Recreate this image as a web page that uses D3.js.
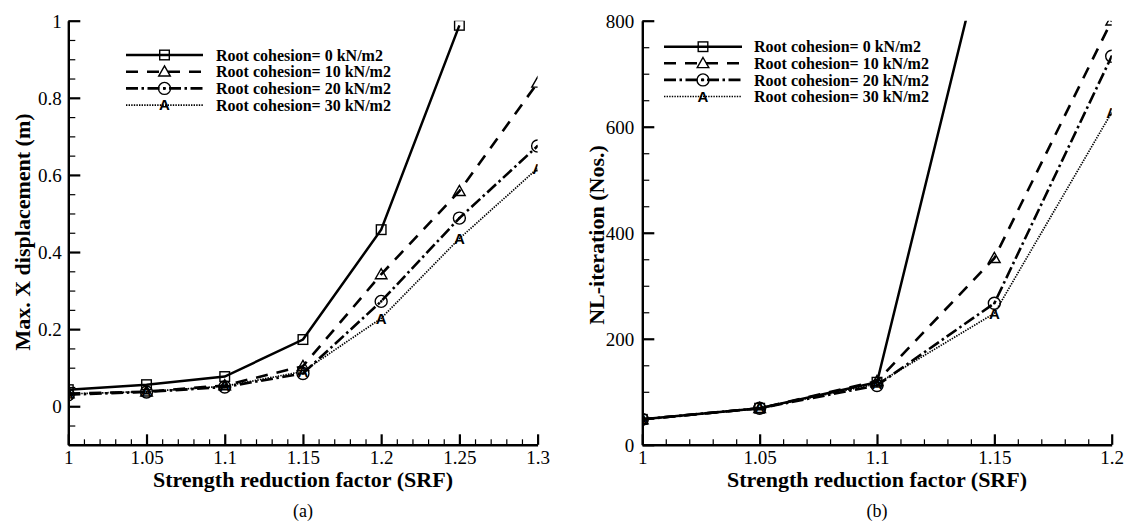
<!DOCTYPE html>
<html>
<head>
<meta charset="utf-8">
<script src="https://cdn.jsdelivr.net/npm/d3@7"></script>
<style>
  html, body { margin: 0; padding: 0; background: #fff; }
  svg { display: block; }
  text { font-family: "Liberation Serif", "Times New Roman", serif; fill: #000; }
</style>
</head>
<body>
<svg id="chart" width="1125" height="523"></svg>
<script>
// ---------- DATA ----------
const seriesNames = ["Root cohesion= 0 kN/m2", "Root cohesion= 10 kN/m2", "Root cohesion= 20 kN/m2", "Root cohesion= 30 kN/m2"];

// (a) Max. X displacement vs SRF
const srfA = [1, 1.05, 1.1, 1.15, 1.2, 1.25, 1.3];
const dispC0  = [0.043, 0.056, 0.077, 0.173, 0.458, 0.988];
const dispC10 = [0.033, 0.038, 0.054, 0.104, 0.342, 0.558, 0.839];
const dispC20 = [0.030, 0.037, 0.050, 0.085, 0.272, 0.488, 0.675];
const dispC30 = [0.032, 0.038, 0.052, 0.090, 0.228, 0.435, 0.617];

// (b) NL-iteration vs SRF
const srfB = [1, 1.05, 1.1, 1.15, 1.2];
const iterC0  = [48, 69, 118, 1020];
const iterC10 = [48, 69, 120, 352, 800];
const iterC20 = [48, 69, 112, 267, 733];
const iterC30 = [48, 69, 115, 248, 627];

// tick values / labels
const xTicksA = [1, 1.05, 1.1, 1.15, 1.2, 1.25, 1.3];
const xTickLabelsA = ["1", "1.05", "1.1", "1.15", "1.2", "1.25", "1.3"];
const yTicksA = [0, 0.2, 0.4, 0.6, 0.8, 1];
const yTickLabelsA = ["0", "0.2", "0.4", "0.6", "0.8", "1"];
const xTicksB = [1, 1.05, 1.1, 1.15, 1.2];
const xTickLabelsB = ["1", "1.05", "1.1", "1.15", "1.2"];
const yTicksB = [0, 200, 400, 600, 800];
const yTickLabelsB = ["0", "200", "400", "600", "800"];

// ---------- STYLE ----------
const styles = [
  { dash: null, width: 2.5, marker: "square" },
  { dash: "12,9", width: 2.6, marker: "triangle" },
  { dash: "12,3.5,2.5,3.5", width: 2.6, marker: "circle" },
  { dash: "1.4,1.2", width: 1.7, marker: "A" }
];
const SERIF = "'Liberation Serif', 'Times New Roman', serif";

const svg = d3.select("#chart");

function drawMarker(g, type, cx, cy) {
  if (type === "square") {
    g.append("rect").attr("x", cx - 4.8).attr("y", cy - 4.8).attr("width", 9.6).attr("height", 9.6)
      .attr("fill", "none").attr("stroke", "#000").attr("stroke-width", 1.4);
  } else if (type === "triangle") {
    const s = 5.8;
    g.append("path").attr("d", `M${cx},${cy - s}L${cx + s},${cy + s * 0.75}L${cx - s},${cy + s * 0.75}Z`)
      .attr("fill", "none").attr("stroke", "#000").attr("stroke-width", 1.4);
  } else if (type === "circle") {
    g.append("circle").attr("cx", cx).attr("cy", cy).attr("r", 6)
      .attr("fill", "none").attr("stroke", "#000").attr("stroke-width", 1.4);
    g.append("circle").attr("cx", cx).attr("cy", cy).attr("r", 1.3).attr("fill", "#000");
  } else {
    g.append("text").attr("x", cx).attr("y", cy + 5.2).attr("text-anchor", "middle")
      .style("font-family", "'Liberation Sans', Arial, sans-serif").style("font-weight", "bold")
      .style("font-size", "15px").text("A");
  }
}

function panel(opts) {
  const g = svg.append("g");
  const x = d3.scaleLinear().domain(opts.xDomain).range(opts.xRange);
  const y = d3.scaleLinear().domain(opts.yDomain).range(opts.yRange);

  const clipId = "clip" + opts.id;
  svg.append("defs").append("clipPath").attr("id", clipId).append("rect")
    .attr("x", opts.xRange[0]).attr("y", opts.yRange[1])
    .attr("width", opts.xRange[1] - opts.xRange[0]).attr("height", opts.yRange[0] - opts.yRange[1]);

  // minor ticks
  const xAxisMinor = d3.axisBottom(x).tickValues(opts.xMinor).tickSize(-5.5).tickSizeOuter(0).tickFormat("");
  const yAxisMinor = d3.axisLeft(y).tickValues(opts.yMinor).tickSize(-7).tickSizeOuter(0).tickFormat("");
  g.append("g").attr("transform", `translate(0,${opts.yRange[0]})`).call(xAxisMinor)
    .call(a => a.select(".domain").remove())
    .call(a => a.selectAll("line").attr("stroke-width", 1.2));
  g.append("g").attr("transform", `translate(${opts.xRange[0]},0)`).call(yAxisMinor)
    .call(a => a.select(".domain").remove())
    .call(a => a.selectAll("line").attr("stroke-width", 1.2));

  // major ticks
  const xAxis = d3.axisBottom(x).tickValues(opts.xTicks).tickSize(-10.5).tickSizeOuter(0)
    .tickPadding(0).tickFormat((d, i) => opts.xLabels[i]);
  const yAxis = d3.axisLeft(y).tickValues(opts.yTicks).tickSize(-12).tickSizeOuter(0)
    .tickPadding(0).tickFormat((d, i) => opts.yLabels[i]);
  const gx = g.append("g").attr("transform", `translate(0,${opts.yRange[0]})`).call(xAxis)
    .attr("font-family", SERIF).attr("font-size", 19);
  gx.select(".domain").attr("stroke-width", 2.4);
  gx.selectAll("line").attr("stroke-width", 2.2);
  gx.selectAll("text").attr("y", 19).attr("dy", null)
    .style("font-family", SERIF).style("font-size", "19px");
  const gy = g.append("g").attr("transform", `translate(${opts.xRange[0]},0)`).call(yAxis)
    .attr("font-family", SERIF).attr("font-size", 19);
  gy.select(".domain").attr("stroke-width", 2.4);
  gy.selectAll("line").attr("stroke-width", 2.2);
  gy.selectAll("text").attr("x", -opts.yLabelGap).attr("dy", "0.34em")
    .style("font-family", SERIF).style("font-size", "19px");

  // series
  const lg = g.append("g").attr("clip-path", `url(#${clipId})`);
  const line = d3.line().x(d => x(d[0])).y(d => y(d[1]));
  opts.series.forEach((vals, si) => {
    const pts = vals.map((v, i) => [opts.xs[i], v]);
    const st = styles[si];
    lg.append("path").attr("d", line(pts)).attr("fill", "none").attr("stroke", "#000")
      .attr("stroke-width", st.width).attr("stroke-dasharray", st.dash)
      .attr("stroke-linejoin", "miter");
    const mg = lg.append("g");
    pts.forEach(p => {
      if (p[1] <= opts.yDomain[1]) drawMarker(mg, st.marker, x(p[0]), y(p[1]));
    });
  });

  // legend
  const leg = g.append("g");
  seriesNames.forEach((name, i) => {
    const yy = opts.legend.y0 + i * opts.legend.dy;
    const st = styles[i];
    leg.append("line").attr("x1", opts.legend.x1).attr("x2", opts.legend.x2).attr("y1", yy).attr("y2", yy)
      .attr("stroke", "#000").attr("stroke-width", st.width).attr("stroke-dasharray", st.dash);
    drawMarker(leg, st.marker, (opts.legend.x1 + opts.legend.x2) / 2, yy);
    leg.append("text").attr("x", opts.legend.tx).attr("y", yy).attr("dy", "0.35em")
      .style("font-weight", "bold").style("font-size", "16px").text(name);
  });

  // titles
  const cx = (opts.xRange[0] + opts.xRange[1]) / 2;
  g.append("text").attr("x", cx).attr("y", 487).attr("text-anchor", "middle")
    .style("font-weight", "bold").style("font-size", "22px").text("Strength reduction factor (SRF)");
  g.append("text").attr("transform", `translate(${opts.xRange[0] - 46},${opts.yTitleY}) rotate(-90)`)
    .attr("text-anchor", "middle").attr("dy", "0.35em")
    .style("font-weight", "bold").style("font-size", "22px").text(opts.yTitle);
  g.append("text").attr("x", cx).attr("y", 517).attr("text-anchor", "middle")
    .style("font-size", "18px").text(opts.tag);
}

panel({
  id: "A",
  xDomain: [1, 1.3], xRange: [68.3, 537.6],
  yDomain: [-0.1, 1], yRange: [444.8, 20.7],
  xTicks: xTicksA, xLabels: xTickLabelsA,
  yTicks: yTicksA, yLabels: yTickLabelsA,
  xMinor: d3.range(1, 1.3001, 0.01).filter(v => Math.abs(v * 20 - Math.round(v * 20)) > 1e-6),
  yMinor: d3.range(-0.1, 1.0001, 0.05).filter(v => Math.abs(v * 5 - Math.round(v * 5)) > 1e-6),
  yLabelGap: 6.5,
  xs: srfA,
  series: [dispC0, dispC10, dispC20, dispC30],
  legend: { x1: 126, x2: 203, tx: 216, y0: 55, dy: 16.7 },
  yTitle: "Max. X displacement (m)", yTitleY: 232, tag: "(a)"
});

panel({
  id: "B",
  xDomain: [1, 1.2], xRange: [642.3, 1111.7],
  yDomain: [0, 800], yRange: [444.8, 20.7],
  xTicks: xTicksB, xLabels: xTickLabelsB,
  yTicks: yTicksB, yLabels: yTickLabelsB,
  xMinor: d3.range(1, 1.2001, 0.01).filter(v => Math.abs(v * 20 - Math.round(v * 20)) > 1e-6),
  yMinor: d3.range(0, 800.1, 50).filter(v => v % 200 !== 0),
  yLabelGap: 8,
  xs: srfB,
  series: [iterC0, iterC10, iterC20, iterC30],
  legend: { x1: 664, x2: 742, tx: 754, y0: 46.7, dy: 16.6 },
  yTitle: "NL-iteration (Nos.)", yTitleY: 235, tag: "(b)"
});
</script>
</body>
</html>
